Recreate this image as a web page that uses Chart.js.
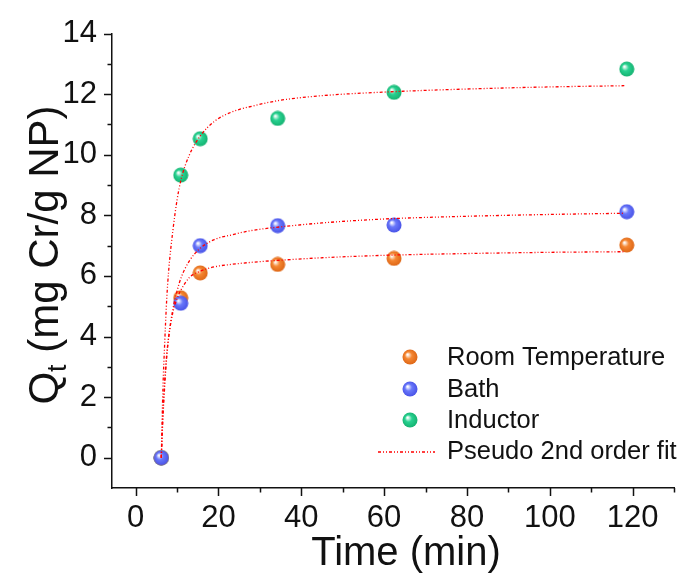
<!DOCTYPE html>
<html lang="en">
  <head>
    <meta charset="utf-8" />
    <title>Pseudo 2nd order fit</title>
    <style>
      * {
        margin: 0;
        padding: 0;
      }
      body {
        background: white;
      }
      .chartBox {
        width: 683px;
        height: 574px;
      }
    </style>
  </head>
  <body>
    <div class="chartBox">
      <canvas id="myChart" width="683" height="574"></canvas>
    </div>

    <script src="https://cdn.jsdelivr.net/npm/chart.js@4.4.0/dist/chart.umd.min.js"></script>

    <script>
      const timeMin = [6.2, 10.9, 15.6, 34.3, 62.4, 118.6];
      const roomTemp = [0, 5.28, 6.1, 6.38, 6.58, 7.02];
      const bath = [0, 5.1, 7.0, 7.66, 7.68, 8.12];
      const inductor = [0, 9.33, 10.53, 11.2, 12.06, 12.83];

      // fit curves
      const fitTime = [6.2, 6.6, 7, 7.5, 8, 9, 10, 11, 13, 15.5, 19, 23, 28, 35, 45, 60, 80, 100, 118];
      const fitRoom = [0, 1.5, 2.5, 3.4, 4.0, 4.8, 5.25, 5.55, 5.95, 6.15, 6.3, 6.38, 6.45, 6.52, 6.6, 6.68, 6.74, 6.78, 6.8];
      const fitBath = [0, 1.3, 2.3, 3.3, 4.0, 4.9, 5.5, 5.95, 6.5, 6.9, 7.2, 7.35, 7.5, 7.62, 7.75, 7.88, 7.97, 8.03, 8.07];
      const fitInductor = [0, 2.3, 3.7, 5.2, 6.2, 7.5, 8.5, 9.2, 10.0, 10.6, 11.1, 11.4, 11.6, 11.8, 11.95, 12.07, 12.17, 12.24, 12.28];

      const xTicks = [0, 20, 40, 60, 80, 100, 120];
      const xMinor = [10, 30, 50, 70, 90, 110, 130];
      const yTicks = [0, 2, 4, 6, 8, 10, 12, 14];
      const yMinor = [1, 3, 5, 7, 9, 11, 13];

      const toXY = (xs, ys) => xs.map((x, i) => ({ x: x, y: ys[i] }));

      // shaded ball marker
      function sphere(color, dark) {
        const c = document.createElement("canvas");
        c.width = 16;
        c.height = 16;
        const g = c.getContext("2d");
        const grad = g.createRadialGradient(5.5, 5.5, 0.5, 8, 8, 8);
        grad.addColorStop(0, "#ffffff");
        grad.addColorStop(0.4, color);
        grad.addColorStop(1, dark);
        g.fillStyle = grad;
        g.beginPath();
        g.arc(8, 8, 7.5, 0, Math.PI * 2);
        g.fill();
        return c;
      }

      const orangeBall = sphere("rgb(245,135,50)", "rgb(220,100,20)");
      const blueBall = sphere("rgb(105,120,250)", "rgb(70,80,230)");
      const greenBall = sphere("rgb(40,210,145)", "rgb(20,175,110)");

      const fitDash = [3, 2, 1, 2, 1, 2];
      const fitColor = "rgb(255,0,0)";
      const font = "'Liberation Sans', Arial, sans-serif";

      const fitLine = (data) => ({
        label: "Pseudo 2nd order fit",
        type: "line",
        data: data,
        showLine: true,
        borderColor: fitColor,
        borderWidth: 1.3,
        borderDash: fitDash,
        pointRadius: 0,
        cubicInterpolationMode: "monotone",
        order: 0,
      });

      const scatterSet = (label, data, ball, order) => ({
        label: label,
        data: data,
        pointStyle: ball,
        pointRadius: 8,
        order: order,
      });

      const data = {
        datasets: [
          scatterSet("Room Temperature", toXY(timeMin, roomTemp), orangeBall, 3),
          scatterSet("Bath", toXY(timeMin, bath), blueBall, 2),
          scatterSet("Inductor", toXY(timeMin, inductor), greenBall, 4),
          fitLine(toXY(fitTime, fitRoom)),
          fitLine(toXY(fitTime, fitBath)),
          fitLine(toXY(fitTime, fitInductor)),
        ],
      };

      // ticks, titles and legend
      const decorations = {
        id: "decorations",
        afterDraw(chart) {
          const {
            ctx,
            chartArea: { left, bottom },
            scales: { x, y },
          } = chart;
          ctx.save();
          ctx.strokeStyle = "#111";
          ctx.lineWidth = 1.5;
          ctx.beginPath();
          xTicks.forEach((v) => {
            const px = Math.round(x.getPixelForValue(v)) + 0.5;
            ctx.moveTo(px, bottom);
            ctx.lineTo(px, bottom + 8);
          });
          xMinor.forEach((v) => {
            const px = Math.round(x.getPixelForValue(v)) + 0.5;
            ctx.moveTo(px, bottom);
            ctx.lineTo(px, bottom + 4.5);
          });
          yTicks.forEach((v) => {
            const py = Math.round(y.getPixelForValue(v)) + 0.5;
            ctx.moveTo(left, py);
            ctx.lineTo(left - 8, py);
          });
          yMinor.forEach((v) => {
            const py = Math.round(y.getPixelForValue(v)) + 0.5;
            ctx.moveTo(left, py);
            ctx.lineTo(left - 4.5, py);
          });
          ctx.stroke();

          // x title
          ctx.fillStyle = "#111";
          ctx.font = "40px " + font;
          ctx.textAlign = "center";
          ctx.textBaseline = "middle";
          ctx.fillText("Time (min)", 406, 554);

          // y title with subscript
          ctx.translate(44, 255);
          ctx.rotate(-Math.PI / 2);
          ctx.textAlign = "left";
          ctx.textBaseline = "alphabetic";
          const big = "42px " + font;
          const small = "27px " + font;
          ctx.font = big;
          const wQ = ctx.measureText("Q").width;
          const rest = " (mg Cr/g NP)";
          const wR = ctx.measureText(rest).width;
          ctx.font = small;
          const wT = ctx.measureText("t").width;
          let sx = -(wQ + wT + wR) / 2;
          const base = 14;
          ctx.font = big;
          ctx.fillText("Q", sx, base);
          ctx.font = small;
          ctx.fillText("t", sx + wQ, base + 8);
          ctx.font = big;
          ctx.fillText(rest, sx + wQ + wT, base);
          ctx.restore();

          // legend
          ctx.save();
          const rows = [
            { text: "Room Temperature", ball: orangeBall, y: 357 },
            { text: "Bath", ball: blueBall, y: 389 },
            { text: "Inductor", ball: greenBall, y: 420 },
          ];
          ctx.font = "25.5px " + font;
          ctx.fillStyle = "#111";
          ctx.textAlign = "left";
          ctx.textBaseline = "middle";
          rows.forEach((r) => {
            ctx.drawImage(r.ball, 410 - 8, r.y - 8);
            ctx.fillText(r.text, 447, r.y + 1);
          });
          ctx.strokeStyle = fitColor;
          ctx.lineWidth = 1.3;
          ctx.setLineDash(fitDash);
          ctx.beginPath();
          ctx.moveTo(378, 452);
          ctx.lineTo(435, 452);
          ctx.stroke();
          ctx.setLineDash([]);
          ctx.fillText("Pseudo 2nd order fit", 447, 452);
          ctx.restore();
        },
      };

      const config = {
        type: "scatter",
        data: data,
        options: {
          responsive: false,
          animation: false,
          layout: {
            padding: { top: 33, right: 2, left: 0, bottom: 0 },
          },
          plugins: {
            legend: { display: false },
            tooltip: { enabled: false },
          },
          scales: {
            x: {
              type: "linear",
              min: -5.7,
              max: 130,
              afterBuildTicks: (s) => {
                s.ticks = xTicks.map((v) => ({ value: v }));
              },
              afterFit: (s) => {
                s.height = 86;
              },
              grid: { display: true, drawOnChartArea: false, drawTicks: false },
              border: { display: true, color: "#111", width: 1.5 },
              ticks: {
                color: "#111",
                padding: 12,
                maxRotation: 0,
                font: { family: font, size: 31 },
              },
            },
            y: {
              type: "linear",
              min: -1,
              max: 14,
              afterBuildTicks: (s) => {
                s.ticks = yTicks.map((v) => ({ value: v }));
              },
              afterFit: (s) => {
                s.width = 112;
              },
              grid: { display: true, drawOnChartArea: false, drawTicks: false },
              border: { display: true, color: "#111", width: 1.5 },
              ticks: {
                color: "#111",
                padding: 15,
                font: { family: font, size: 31 },
              },
            },
          },
        },
        plugins: [decorations],
      };

      const myChart = new Chart(document.getElementById("myChart"), config);
    </script>
  </body>
</html>
